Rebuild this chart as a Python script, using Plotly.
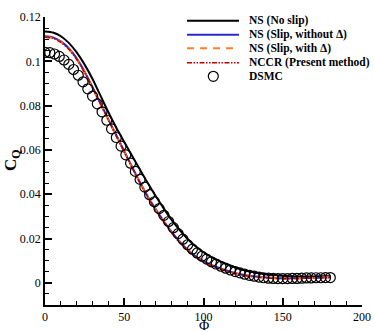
import plotly.graph_objects as go

# ---------------- data ----------------
phi_line = [0, 5, 10, 15, 20, 25, 30, 35, 40, 45, 50, 55, 60, 65, 70, 75, 80, 85, 90,
            95, 100, 105, 110, 115, 120, 125, 130, 135, 140, 145, 150, 155, 160, 165,
            170, 175, 180]

ns_noslip = [0.1135, 0.1130, 0.1113, 0.1083, 0.1040, 0.0985, 0.0920, 0.0845, 0.0770,
             0.0700, 0.0636, 0.0573, 0.0510, 0.0448, 0.0390, 0.0335, 0.0283, 0.0238,
             0.0198, 0.0165, 0.0138, 0.0116, 0.0098, 0.0082, 0.0069, 0.0058, 0.0050,
             0.0043, 0.0038, 0.0035, 0.0032, 0.0030, 0.0029, 0.0029, 0.0029, 0.0030,
             0.0030]

ns_slip_no_delta = [0.1113, 0.1108, 0.1090, 0.1059, 0.1013, 0.0953, 0.0883, 0.0811,
                    0.0738, 0.0666, 0.0594, 0.0523, 0.0453, 0.0388, 0.0331, 0.0278,
                    0.0229, 0.0186, 0.0149, 0.0120, 0.0098, 0.0081, 0.0067, 0.0055,
                    0.0045, 0.0037, 0.0031, 0.0027, 0.0024, 0.0022, 0.0021, 0.0021,
                    0.0021, 0.0022, 0.0023, 0.0024, 0.0025]

ns_slip_delta = [0.1110, 0.1105, 0.1087, 0.1056, 0.1010, 0.0950, 0.0880, 0.0808,
                 0.0735, 0.0663, 0.0591, 0.0520, 0.0450, 0.0385, 0.0328, 0.0275,
                 0.0226, 0.0183, 0.0146, 0.0117, 0.0095, 0.0078, 0.0064, 0.0053,
                 0.0043, 0.0035, 0.0030, 0.0026, 0.0023, 0.0021, 0.0020, 0.0020,
                 0.0020, 0.0021, 0.0022, 0.0024, 0.0025]

nccr = [0.1109, 0.1104, 0.1086, 0.1055, 0.1009, 0.0949, 0.0879, 0.0807,
        0.0734, 0.0662, 0.0590, 0.0519, 0.0449, 0.0384, 0.0327, 0.0274,
        0.0225, 0.0182, 0.0145, 0.0116, 0.0094, 0.0077, 0.0063, 0.0052,
        0.0042, 0.0034, 0.0029, 0.0025, 0.0022, 0.0020, 0.0019, 0.0019,
        0.0020, 0.0021, 0.0022, 0.0023, 0.0024]

phi_dsmc = list(range(0, 181, 3))
dsmc = [0.1040, 0.1039, 0.1033, 0.1022, 0.1006, 0.0986, 0.0963, 0.0937, 0.0907,
        0.0876, 0.0843, 0.0808, 0.0772, 0.0734, 0.0695, 0.0656, 0.0617, 0.0578,
        0.0540, 0.0503, 0.0467, 0.0432, 0.0398, 0.0366, 0.0335, 0.0305, 0.0277,
        0.0249, 0.0222, 0.0197, 0.0172, 0.0152, 0.0135, 0.0120, 0.0107, 0.0095,
        0.0085, 0.0075, 0.0066, 0.0058, 0.0051, 0.0045, 0.0039, 0.0034, 0.0030,
        0.0026, 0.0023, 0.0021, 0.0020, 0.0019, 0.0019, 0.0019, 0.0020, 0.0020,
        0.0021, 0.0022, 0.0022, 0.0023, 0.0023, 0.0024, 0.0024]

x_ticks = [0, 50, 100, 150, 200]
y_ticks = [0, 0.02, 0.04, 0.06, 0.08, 0.1, 0.12]
y_tick_labels = ["0", "0.02", "0.04", "0.06", "0.08", "0.1", "0.12"]

names = ["NS (No slip)", "NS (Slip, without \u0394)", "NS (Slip, with \u0394)",
         "NCCR (Present method)", "DSMC"]

# ---------------- styles ----------------
FONT = "Liberation Serif, Times New Roman, serif"
W, H = 374, 332
ML, MR, MT, MB = 45, 12, 17, 27
line_styles = [
    dict(color="#000000", width=2, dash="solid"),
    dict(color="#2a2ac8", width=2, dash="solid"),
    dict(color="#ff7f2a", width=2, dash="7px,6px"),
    dict(color="#c00000", width=1.6, dash="5px,1.5px,1.5px,1.5px,1.5px,1.5px"),
]
series = [ns_noslip, ns_slip_no_delta, ns_slip_delta, nccr]

fig = go.Figure()
for ys, st, nm in zip(series, line_styles, names[:4]):
    fig.add_trace(go.Scatter(x=phi_line, y=ys, mode="lines", name=nm,
                             line=dict(color=st["color"], width=st["width"], dash=st["dash"],
                                       shape="spline", smoothing=0.6),
                             showlegend=False))
fig.add_trace(go.Scatter(x=phi_dsmc, y=dsmc, mode="markers", name=names[4],
                         marker=dict(symbol="circle-open", size=10, color="#000000",
                                     line=dict(width=1.2, color="#000000")),
                         showlegend=False))

# ---------------- hand-drawn legend (pixel -> paper) ----------------
pw, ph = W - ML - MR, H - MT - MB
def px(xp):
    return (xp - ML) / pw
def py(yp):
    return (H - MB - yp) / ph

rows = [20.7, 34.7, 48.3, 62.7, 76.3]
shapes = []
annotations = []
for i in range(4):
    st = line_styles[i]
    shapes.append(dict(type="line", xref="paper", yref="paper",
                       x0=px(187), x1=px(239), y0=py(rows[i]), y1=py(rows[i]),
                       line=dict(color=st["color"], width=st["width"], dash=st["dash"])))
shapes.append(dict(type="circle", xref="paper", yref="paper",
                   x0=px(213.3 - 5), x1=px(213.3 + 5), y0=py(rows[4] + 5), y1=py(rows[4] - 5),
                   line=dict(color="#000000", width=1.2)))
for i, nm in enumerate(names):
    annotations.append(dict(xref="paper", yref="paper", x=px(247), y=py(rows[i]),
                            xanchor="left", yanchor="middle", showarrow=False,
                            text="<b>" + nm + "</b>",
                            font=dict(family=FONT, size=11.5, color="#000000")))

# axis titles
annotations.append(dict(xref="paper", yref="paper", x=px(12), y=py(160),
                        xanchor="center", yanchor="middle", showarrow=False,
                        textangle=-90, text="<b>C<sub>Q</sub></b>",
                        font=dict(family=FONT, size=17, color="#000000")))
annotations.append(dict(xref="paper", yref="paper", x=px(203.5), y=py(325.5),
                        xanchor="center", yanchor="middle", showarrow=False,
                        text="\u03a6",
                        font=dict(family=FONT, size=14, color="#000000")))

fig.update_layout(
    width=W, height=H,
    margin=dict(l=ML, r=MR, t=MT, b=MB, autoexpand=False),
    paper_bgcolor="white", plot_bgcolor="white",
    font=dict(family=FONT, size=12, color="#000000"),
    shapes=shapes, annotations=annotations,
    showlegend=False,
)
fig.update_xaxes(range=[0, 200], tickvals=x_ticks, ticktext=[str(v) for v in x_ticks],
                 ticks="inside", ticklen=7, tickwidth=1.5, tickcolor="#000000",
                 minor=dict(ticks="inside", ticklen=4, tickwidth=1, tickcolor="#000000", dtick=10, tick0=0),
                 showline=True, linecolor="#000000", linewidth=1.8,
                 showgrid=False, zeroline=False, automargin=False,
                 tickfont=dict(family=FONT, size=12, color="#000000"))
fig.update_yaxes(range=[-0.01, 0.12], tickvals=y_ticks, ticktext=y_tick_labels,
                 ticks="inside", ticklen=7, tickwidth=1.5, tickcolor="#000000",
                 minor=dict(ticks="inside", ticklen=4, tickwidth=1, tickcolor="#000000", dtick=0.005, tick0=0),
                 showline=True, linecolor="#000000", linewidth=1.8,
                 showgrid=False, zeroline=False, automargin=False,
                 tickfont=dict(family=FONT, size=12, color="#000000"))

fig.write_html("out.html", config={"displayModeBar": False},
               post_script="document.body.style.margin='0';document.body.style.overflow='hidden';")
